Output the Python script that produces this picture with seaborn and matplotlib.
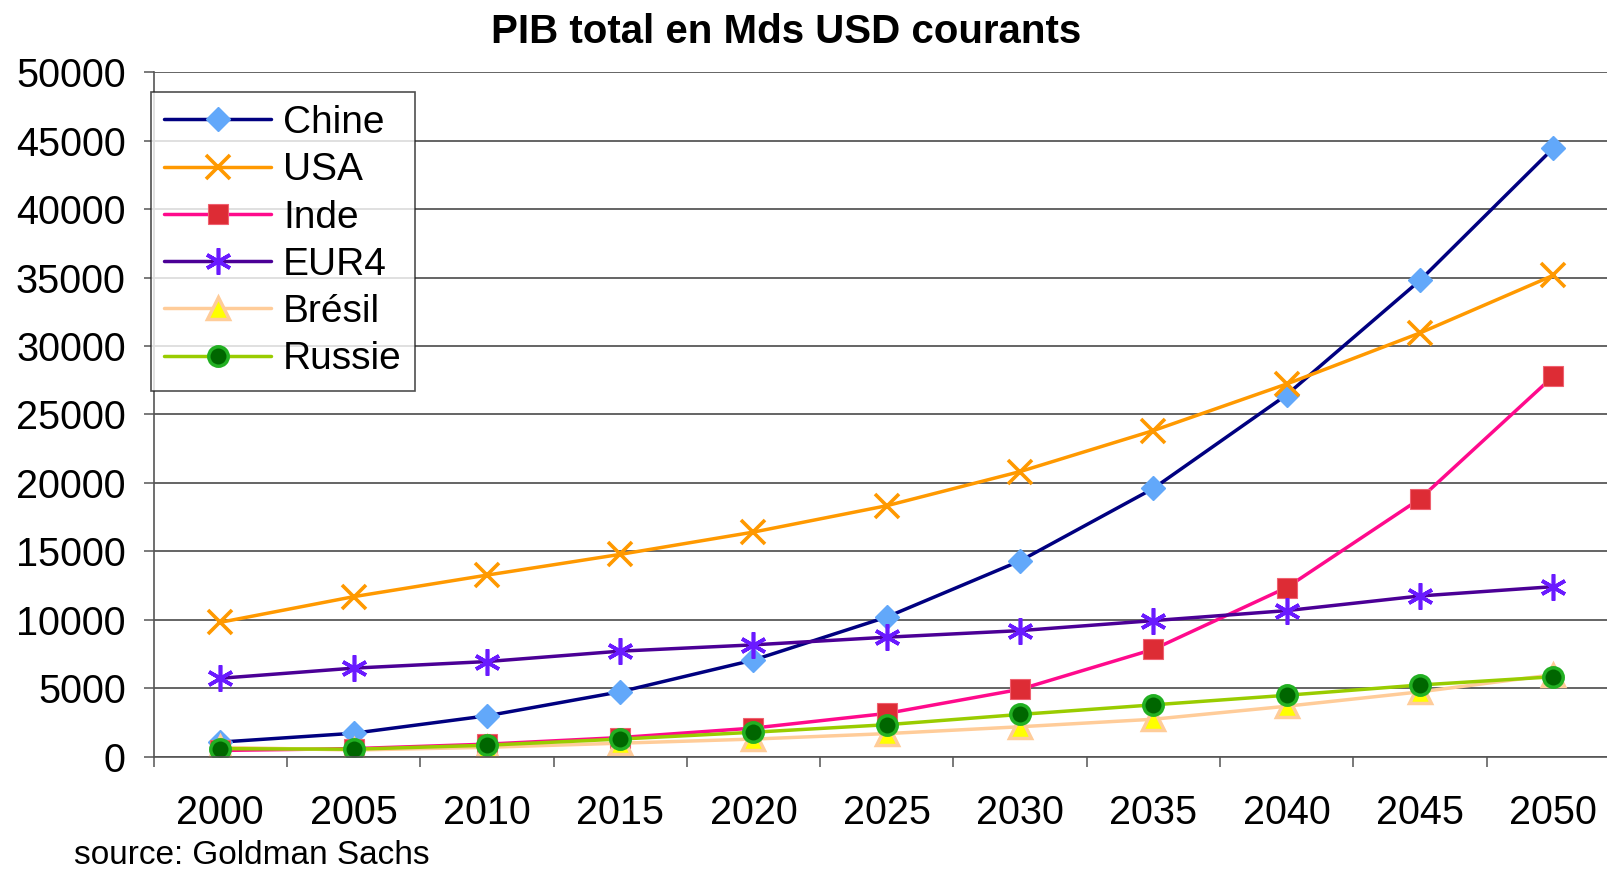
import matplotlib
matplotlib.use("Agg")
import matplotlib.pyplot as plt
import numpy as np
import pandas as pd
import seaborn as sns

# data (Mds USD courants)
years = ['2000', '2005', '2010', '2015', '2020', '2025', '2030', '2035', '2040', '2045', '2050']
chine = [1078, 1724, 2998, 4754, 7070, 10213, 14312, 19605, 26439, 34799, 44453]
usa = [9825, 11697, 13271, 14786, 16415, 18340, 20833, 23828, 27229, 30956, 35165]
inde = [469, 604, 929, 1411, 2104, 3174, 4935, 7854, 12367, 18847, 27803]
eur4 = [5740, 6480, 6960, 7720, 8180, 8740, 9220, 9950, 10680, 11750, 12430]
bresil = [700, 500, 700, 1000, 1300, 1700, 2200, 2750, 3700, 4750, 6000]
russie = [600, 560, 850, 1300, 1800, 2350, 3100, 3800, 4500, 5250, 5850]

yticks = [0, 5000, 10000, 15000, 20000, 25000, 30000, 35000, 40000, 45000, 50000]

df = pd.DataFrame({'pos': np.arange(len(years)), 'Chine': chine, 'USA': usa, 'Inde': inde,
                   'EUR4': eur4, 'Brésil': bresil, 'Russie': russie})

sns.set_theme(style='white')
plt.rcParams['font.family'] = ['Liberation Sans', 'DejaVu Sans']
plt.rcParams['text.color'] = 'black'
plt.rcParams['xtick.color'] = 'black'
plt.rcParams['ytick.color'] = 'black'

# series styles
styles = {
    'Chine': dict(color='#000080', marker='D', markersize=12.5, markerfacecolor='#62A8FA',
                  markeredgecolor='#62A8FA', markeredgewidth=1),
    'USA': dict(color='#FF9900', marker='x', markersize=17.5, markerfacecolor='#FF9900',
                markeredgecolor='#FF9900', markeredgewidth=2.6),
    'Inde': dict(color='#FF0A8C', marker='s', markersize=14.5, markerfacecolor='#DD2C35',
                 markeredgecolor='#F06070', markeredgewidth=0.8),
    'EUR4': dict(color='#4B0096', marker=(6, 2, 0), markersize=19, markerfacecolor='#6A1AFF',
                 markeredgecolor='#6A1AFF', markeredgewidth=2.6),
    'Brésil': dict(color='#FFCC99', marker='^', markersize=16, markerfacecolor='#FFFF00',
                   markeredgecolor='#FFCC99', markeredgewidth=2.5),
    'Russie': dict(color='#99CC00', marker='o', markersize=14, markerfacecolor='#006600',
                   markeredgecolor='#22B022', markeredgewidth=2.5),
}

fig = plt.figure(figsize=(16.08, 8.74), dpi=100)
ax = fig.add_axes([0.0955, 0.134, 0.912, 0.7835])

for name, st in styles.items():
    sns.lineplot(data=df, x='pos', y=name, ax=ax, label=name, linewidth=2.5, **st)

ax.set_xlim(-0.5, len(years) - 0.5)
ax.set_ylim(0, 50000)
ax.set_yticks(yticks)
ax.set_yticklabels([str(v) for v in yticks])
ax.set_xticks(np.arange(len(years)))
ax.set_xticklabels(years)
ax.set_xticks(np.arange(-0.5, len(years)), minor=True)
ax.set_xlabel('')
ax.set_ylabel('')

ax.yaxis.grid(True, color='#3a3a3a', linewidth=1.1)
ax.set_axisbelow(True)
for s in ['top', 'right']:
    ax.spines[s].set_visible(False)
for s in ['left', 'bottom']:
    ax.spines[s].set_color('#555555')
    ax.spines[s].set_linewidth(1.2)

ax.tick_params(axis='y', which='major', left=True, length=7, width=1.1, color='#555555',
               labelsize=28.5, pad=13)
ax.tick_params(axis='x', which='major', bottom=False, length=0, labelsize=28.5, pad=26.5)
ax.tick_params(axis='x', which='minor', bottom=True, length=7, width=1.1, color='#555555')

leg = ax.legend(loc='upper left', bbox_to_anchor=(0.094, 0.895), bbox_transform=fig.transFigure,
                borderaxespad=0, fontsize=28, frameon=True, fancybox=False, handlelength=2.75,
                handletextpad=0.3, labelspacing=0.29, borderpad=0.34)
leg.get_frame().set_edgecolor('#222222')
leg.get_frame().set_linewidth(1.2)

fig.text(0.489, 0.963, 'PIB total en Mds USD courants', ha='center', va='center',
         fontsize=29, fontweight='bold')
fig.text(0.046, 0.021, 'source: Goldman Sachs', ha='left', va='center', fontsize=24)

fig.savefig('out.png', dpi=100)
